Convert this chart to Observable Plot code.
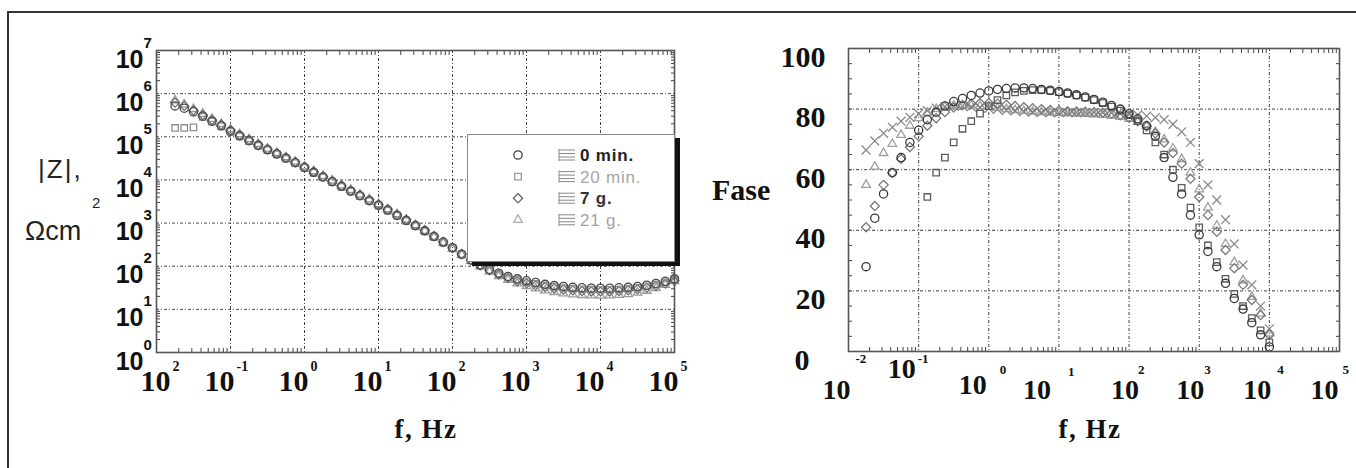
<!DOCTYPE html>
<html><head><meta charset="utf-8">
<script src="https://cdn.jsdelivr.net/npm/d3@7"></script>
<script src="https://cdn.jsdelivr.net/npm/@observablehq/plot@0.6"></script>
<style>
html,body{margin:0;padding:0;background:#fff;}
#wrap{position:relative;width:1356px;height:468px;overflow:hidden;background:#fff;}
#border{position:absolute;left:7px;top:11px;width:1349px;height:457px;border-top:2px solid #333;border-left:2px solid #333;box-sizing:border-box;}
.chart{position:absolute;top:0;}
#legend{position:absolute;left:467px;top:134px;width:208px;height:128px;background:#fff;border:1px solid #888;box-shadow:5px 4px 0 #111;box-sizing:border-box;}
</style></head><body>
<div id="wrap"><div id="border"></div><div id="left" class="chart" style="left:0"></div><div id="right" class="chart" style="left:690px"></div><div id="legend"></div></div>
<script>
// ---------------- data ----------------
const freq = [0.0178, 0.0237, 0.0316, 0.0422, 0.0562, 0.075, 0.1, 0.133, 0.178, 0.237, 0.316, 0.422, 0.562, 0.75, 1, 1.33, 1.78, 2.37, 3.16, 4.22, 5.62, 7.5, 10, 13.3, 17.8, 23.7, 31.6, 42.2, 56.2, 75, 100, 133, 178, 237, 316, 422, 562, 750, 1000, 1330, 1780, 2370, 3160, 4220, 5620, 7500, 10000, 13300, 17800, 23700, 31600, 42200, 56200, 75000, 100000];

// |Z| (ohm cm2)
const zMin0 = [5.2e5, 4.6e5, 3.8e5, 3.0e5, 2.3e5, 1.8e5, 1.35e5, 1.05e5, 8.1e4, 6.3e4, 5.0e4, 4.0e4, 3.2e4, 2.5e4, 1.95e4, 1.5e4, 1.17e4, 9.1e3, 7.1e3, 5.5e3, 4.3e3, 3.3e3, 2.6e3, 2.0e3, 1.5e3, 1.15e3, 870, 660, 490, 363, 269, 190, 140, 106, 84, 69, 58, 51, 46, 42, 38, 35.5, 34, 32.4, 31.6, 31, 31, 31, 31.6, 32.4, 34, 36.3, 39.8, 44.7, 51];
const zMin20 = [1.6e5, 1.6e5, 1.65e5, 2.9e5, 2.25e5, 1.75e5, 1.3e5, 1.02e5, 7.9e4, 6.2e4, 4.9e4, 3.9e4, 3.1e4, 2.45e4, 1.9e4, 1.46e4, 1.14e4, 8.9e3, 6.9e3, 5.4e3, 4.2e3, 3.25e3, 2.55e3, 1.95e3, 1.48e3, 1.12e3, 850, 640, 475, 350, 258, 186, 137, 104, 81, 66, 55, 48, 43, 39, 35.5, 33, 31, 29.8, 29, 28.5, 28.2, 28.3, 28.8, 29.8, 31.5, 34, 37.5, 42, 48];
const zDay7 = [6.2e5, 5.2e5, 4.1e5, 3.2e5, 2.45e5, 1.9e5, 1.42e5, 1.1e5, 8.5e4, 6.6e4, 5.2e4, 4.15e4, 3.3e4, 2.6e4, 2.0e4, 1.55e4, 1.2e4, 9.4e3, 7.3e3, 5.7e3, 4.45e3, 3.45e3, 2.7e3, 2.08e3, 1.58e3, 1.2e3, 900, 680, 500, 365, 265, 192, 140, 105, 80, 64, 53, 45, 40, 36, 33, 30.5, 28.8, 27.5, 26.5, 26, 25.8, 26, 26.6, 27.6, 29.2, 31.5, 35, 39.5, 46];
const zDay21 = [7.0e5, 5.6e5, 4.4e5, 3.4e5, 2.6e5, 2.0e5, 1.5e5, 1.15e5, 8.8e4, 6.8e4, 5.3e4, 4.2e4, 3.35e4, 2.65e4, 2.05e4, 1.6e4, 1.24e4, 9.7e3, 7.5e3, 5.9e3, 4.6e3, 3.55e3, 2.75e3, 2.1e3, 1.6e3, 1.2e3, 890, 660, 480, 348, 252, 183, 133, 99, 75, 59, 48, 40, 34.5, 30.5, 27.5, 25.2, 23.5, 22.3, 21.5, 21, 20.8, 21, 21.6, 22.6, 24.3, 27, 31, 37, 45];

// phase (degrees)
const pMin0 = [28, 44, 52, 59, 64, 69, 73, 76.5, 79, 81, 82.5, 83.5, 84.5, 85.3, 86, 86.5, 86.8, 87, 87, 86.8, 86.5, 86.2, 85.8, 85.3, 84.7, 84, 83.2, 82.3, 81.2, 80, 78.5, 76.8, 74.5, 71, 64, 57.5, 52, 45, 38.5, 33, 28, 22.5, 17.5, 14, 9.5, 5.5, 1.5, null, null, null, null, null, null, null, null];
const pMin20 = [null, null, null, null, null, null, null, 51, 59, 64, 69, 73.5, 76, 78.5, 81, 83, 84.5, 85.5, 86, 86.3, 86.3, 86, 85.6, 85.1, 84.5, 83.8, 83, 82, 80.8, 79.5, 78, 76, 73, 69, 65, 60, 54, 47.5, 41, 35, 29.5, 24, 19, 15, 11, 7, 3, null, null, null, null, null, null, null, null];
const pDay7 = [41, 48, 55, 59, 63.5, 67.5, 71, 74.5, 77, 79, 80.5, 81.3, 81.8, 82, 82, 81.8, 81.4, 81, 80.6, 80.3, 80, 79.7, 79.5, 79.3, 79.2, 79.1, 79, 78.8, 78.5, 78, 77.2, 76, 74.3, 72, 69, 65.5, 62, 57, 51, 45, 39.5, 33.5, 27.5, 22, 17, 12, 5.5, null, null, null, null, null, null, null, null];
const pDay21 = [55, 61, 65.5, 68.5, 71.5, 74.5, 77, 78.8, 80, 80.8, 81.2, 81.3, 81.2, 81, 80.7, 80.4, 80, 79.7, 79.4, 79.2, 79, 78.8, 78.7, 78.6, 78.5, 78.4, 78.3, 78.1, 77.8, 77.4, 76.8, 75.8, 74.5, 72.5, 70, 67, 63.5, 59, 53.5, 47.5, 41.5, 35.5, 29.5, 23.5, 18, 12.5, 6, null, null, null, null, null, null, null, null];
const pCross = [66.5, 69.5, 72, 74, 76, 77.3, 78.5, 79.5, 80.3, 80.8, 81, 81, 80.8, 80.5, 80.2, 79.9, 79.6, 79.4, 79.2, 79, 78.9, 78.8, 78.8, 78.8, 78.8, 78.8, 78.8, 78.8, 78.7, 78.6, 78.4, 78.1, 77.7, 77.2, 76.5, 75, 72.5, 69, 62, 55, 50, 43.5, 35.5, 28.5, 22, 15, 7.5, null, null, null, null, null, null, null, null];

// ticks / labels
const xTickValues = [0.01, 0.1, 1, 10, 100, 1000, 10000, 100000];
const xTickLabelsLeft = ["10^2", "10^-1", "10^0", "10^1", "10^2", "10^3", "10^4", "10^5"];
const xTickLabelsRight = ["10^-2", "10^-1", "10^0", "10^1", "10^2", "10^3", "10^4", "10^5"];
const zTickValues = [1, 10, 100, 1e3, 1e4, 1e5, 1e6, 1e7];
const zTickLabels = ["10^0", "10^1", "10^2", "10^3", "10^4", "10^5", "10^6", "10^7"];
const phaseTickValues = [0, 20, 40, 60, 80, 100];
const phaseTickLabels = ["0", "20", "40", "60", "80", "100"];
const legendLabels = ["0 min.", "20 min.", "7 g.", "21 g."];
const titles = {zY1: "|Z|,", zY2: "\u03A9cm", zY2sup: "2", x: "f, Hz", phaseY: "Fase"};

// ---------------- styles ----------------
const SERIF = "'Liberation Serif','Times New Roman',serif";
const SANS = "'Liberation Sans',Arial,sans-serif";
const rows = vals => freq.map((f, i) => ({f, v: vals[i]})).filter(d => d.v != null);
const minorLog = (lo, hi) => { const out = []; for (let e = lo; e < hi; e++) for (let k = 2; k < 10; k++) out.push(k * Math.pow(10, e)); return out; };
const xMinor = minorLog(-2, 5);
const zMinor = minorLog(0, 7);
const pMinor = d3.range(5, 100, 5);
const gridStyle = {stroke: "#222", strokeOpacity: 0.85, strokeDasharray: "3,2,1,2", strokeWidth: 1};
const tickStyle = {stroke: "#444", label: null, fill: "none"};
const DOT_R = 4.1, DOT_W = 1.3;

const zStyles = [
  {data: zDay21, symbol: "triangle2", stroke: "#9c9c9c"},
  {data: zDay7, symbol: "diamond2", stroke: "#6e6e6e"},
  {data: zMin20, symbol: "square2", stroke: "#8e8e8e"},
  {data: zMin0, symbol: "circle", stroke: "#4a4a4a"}
];
const pStyles = [
  {data: pDay21, symbol: "triangle2", stroke: "#a0a0a0"},
  {data: pCross, symbol: "times", stroke: "#8a8a8a"},
  {data: pDay7, symbol: "diamond2", stroke: "#7a7a7a"},
  {data: pMin20, symbol: "square2", stroke: "#5c5c5c"},
  {data: pMin0, symbol: "circle", stroke: "#3a3a3a"}
];

function splitPow(svg, sel, nudge, font, baseSize, supSize) {
  let i = 0;
  svg.querySelectorAll(sel).forEach(t => {
    const m = /^10\^(.+)$/.exec(t.textContent);
    if (!m) return;
    const exp = m[1];
    const [bx, by, gap, sy] = nudge(exp, i++);
    const sup = t.cloneNode(false);
    t.textContent = "10";
    for (const [el, size, anchor, dx, dy] of [[t, baseSize, "end", bx, by], [sup, supSize, "start", bx + gap, sy]]) {
      el.removeAttribute("y");
      el.setAttribute("text-anchor", anchor);
      el.setAttribute("dx", dx);
      el.setAttribute("dy", dy);
      el.setAttribute("font-family", font);
      el.setAttribute("font-size", size);
      el.setAttribute("font-weight", "bold");
      el.setAttribute("fill", "#111");
    }
    sup.textContent = exp;
    t.after(sup);
  });
}
function addText(svg, str, attrs) {
  const t = document.createElementNS("http://www.w3.org/2000/svg", "text");
  t.textContent = str;
  t.setAttribute("text-anchor", "start");
  for (const k in attrs) t.setAttribute(k, attrs[k]);
  svg.appendChild(t);
}

// ---------------- left: |Z| ----------------
const left = Plot.plot({
  width: 690, height: 468,
  marginLeft: 156, marginRight: 16, marginTop: 50, marginBottom: 116,
  style: {background: "transparent", overflow: "visible", maxWidth: "none"},
  x: {type: "log", domain: [0.01, 1e5]},
  y: {type: "log", domain: [1, 1e7]},
  marks: [
    Plot.gridX(xTickValues.slice(1, -1), gridStyle),
    Plot.gridY(zTickValues.slice(1, -1), gridStyle),
    Plot.axisX(xMinor, {anchor: "bottom", tickSize: -4, ...tickStyle}),
    Plot.axisX(xMinor, {anchor: "top", tickSize: -4, ...tickStyle}),
    Plot.axisY(zMinor, {anchor: "left", tickSize: -4, ...tickStyle}),
    Plot.axisY(zMinor, {anchor: "right", tickSize: -4, ...tickStyle}),
    ...zStyles.map(s => Plot.dot(rows(s.data), {x: "f", y: "v", symbol: s.symbol, stroke: s.stroke, fill: "none", r: DOT_R, strokeWidth: DOT_W})),
    Plot.frame({stroke: "#555", strokeWidth: 1.6}),
    Plot.axisX(xTickValues, {anchor: "bottom", tickSize: 0, tickPadding: 0, label: null, tickFormat: d => xTickLabelsLeft[xTickValues.indexOf(d)]}),
    Plot.axisY(zTickValues, {anchor: "left", tickSize: 0, tickPadding: 0, label: null, tickFormat: d => zTickLabels[zTickValues.indexOf(d)]})
  ]
});
splitPow(left, 'g[aria-label="x-axis tick label"] text', (e, i) => [i === 0 ? 14 : 4, 38, 2, 18], SERIF, 30, 14);
splitPow(left, 'g[aria-label="y-axis tick label"] text', (e, i) => [-13, 17, 0, -3], SANS, 25, 15);
addText(left, titles.zY1, {x: 38, y: 178, "font-family": SANS, "font-size": 26, "letter-spacing": 2, fill: "#222"});
addText(left, titles.zY2, {x: 25, y: 240, "font-family": SANS, "font-size": 27, fill: "#222"});
addText(left, titles.zY2sup, {x: 92, y: 208, "font-family": SANS, "font-size": 15, fill: "#222"});
addText(left, titles.x, {x: 426, y: 438, "text-anchor": "middle", "font-family": SERIF, "font-size": 27, "font-weight": "bold", "letter-spacing": 1.5, fill: "#111"});
document.getElementById("left").appendChild(left);

// ---------------- right: phase ----------------
const rightNudge = {"-2": [2, 47, 5, 11], "-1": [-3, 26, 2, 11], "0": [-2, 42, 13, 22], "1": [-8, 47, 17, 24], "2": [10, 47, -1, 22], "3": [5, 47, 0, 22], "4": [2, 47, 6, 22], "5": [-1, 47, 4, 22]};
const right = Plot.plot({
  width: 666, height: 468,
  marginLeft: 158, marginRight: 17, marginTop: 48, marginBottom: 117,
  style: {background: "transparent", overflow: "visible", maxWidth: "none"},
  x: {type: "log", domain: [0.01, 1e5]},
  y: {domain: [0, 100]},
  marks: [
    Plot.gridX(xTickValues.slice(1, -1), gridStyle),
    Plot.gridY(phaseTickValues.slice(1, -1), gridStyle),
    Plot.axisX(xMinor, {anchor: "bottom", tickSize: -4, ...tickStyle}),
    Plot.axisX(xMinor, {anchor: "top", tickSize: -4, ...tickStyle}),
    Plot.axisY(pMinor, {anchor: "left", tickSize: -4, ...tickStyle}),
    Plot.axisY(pMinor, {anchor: "right", tickSize: -4, ...tickStyle}),
    ...pStyles.map(s => Plot.dot(rows(s.data), {x: "f", y: "v", symbol: s.symbol, stroke: s.stroke, fill: "none", r: DOT_R, strokeWidth: DOT_W})),
    Plot.frame({stroke: "#555", strokeWidth: 1.6}),
    Plot.axisX(xTickValues, {anchor: "bottom", tickSize: 0, tickPadding: 0, label: null, tickFormat: d => xTickLabelsRight[xTickValues.indexOf(d)]}),
    Plot.axisY(phaseTickValues, {anchor: "left", tickSize: 0, tickPadding: 23, label: null, dy: 8.5, fontSize: 30, fontWeight: "bold", fontFamily: SERIF, fill: "#111", tickFormat: d => phaseTickLabels[phaseTickValues.indexOf(d)]})
  ]
});
right.querySelectorAll('g[aria-label="y-axis tick label"] text').forEach(t => { if (t.textContent === "0") t.setAttribute("dx", -16); });
splitPow(right, 'g[aria-label="x-axis tick label"] text', e => rightNudge[e], SERIF, 28, 13);
addText(right, titles.phaseY, {x: 22, y: 200, "font-family": SERIF, "font-size": 30, "font-weight": "bold", fill: "#111"});
addText(right, titles.x, {x: 400, y: 438, "text-anchor": "middle", "font-family": SERIF, "font-size": 27, "font-weight": "bold", "letter-spacing": 1.5, fill: "#111"});
document.getElementById("right").appendChild(right);

// ---------------- legend ----------------
const legendSymbols = [d3.symbolCircle, d3.symbolSquare2, d3.symbolDiamond2, d3.symbolTriangle2];
const legendMarkColors = ["#444", "#999", "#666", "#aaa"];
const legendTextColors = ["#222", "#a4a4a4", "#333", "#a4a4a4"];
const legendWeights = ["bold", "normal", "bold", "normal"];
const lg = d3.select("#legend").append("svg").attr("width", 206).attr("height", 126).style("display", "block");
legendLabels.forEach((name, i) => {
  const cy = 20 + i * 21.6;
  lg.append("path").attr("transform", `translate(50,${cy})`).attr("d", d3.symbol(legendSymbols[i], 55)())
    .attr("fill", "none").attr("stroke", legendMarkColors[i]).attr("stroke-width", 1.3);
  const ic = lg.append("g").attr("stroke", "#888").attr("stroke-width", 1);
  [-5, -1.5, 2, 5].forEach(o => ic.append("line").attr("x1", 91).attr("x2", 107).attr("y1", cy + o).attr("y2", cy + o));
  ic.append("line").attr("x1", 91).attr("x2", 91).attr("y1", cy - 6).attr("y2", cy + 6);
  lg.append("text").attr("x", 112).attr("y", cy + 6).text(name)
    .attr("font-family", SANS).attr("font-size", 17).attr("font-weight", legendWeights[i])
    .attr("letter-spacing", 0.8).attr("fill", legendTextColors[i]);
});
</script>
</body></html>
